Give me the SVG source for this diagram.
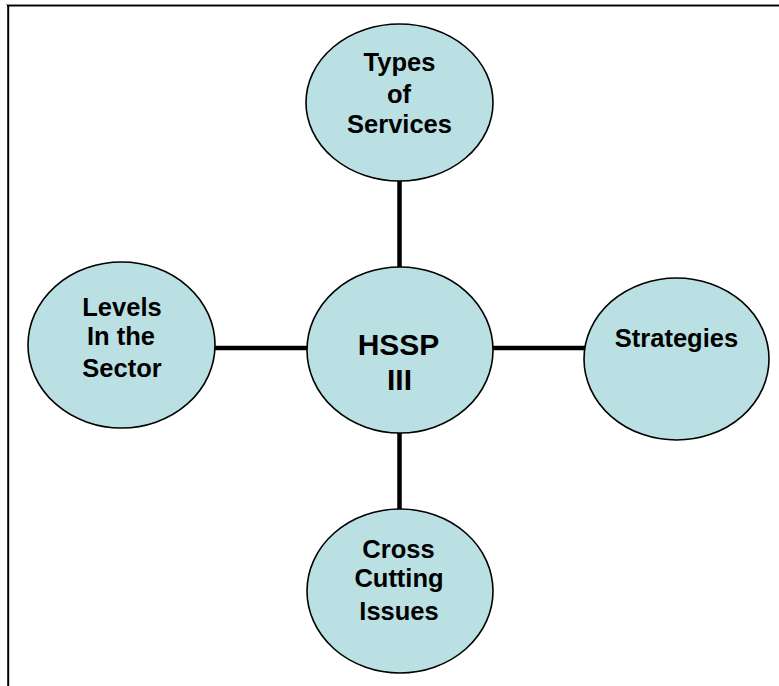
<svg xmlns="http://www.w3.org/2000/svg" width="779" height="686" viewBox="0 0 779 686">
  <style>
    .node ellipse { fill: #bae0e3; stroke: #000; stroke-width: 1.6; }
    .node text { font-family: "Liberation Sans", Arial, sans-serif; font-weight: bold; font-size: 25.5px; fill: #000; text-anchor: middle; }
    .node text.big { font-size: 30px; }
    .links line { stroke: #000; stroke-width: 4.5; }
    .frame { fill: none; }
  </style>

  <rect x="0" y="0" width="779" height="686" fill="#fff"/>

  <!-- page frame (open at right and bottom) -->
  <g class="frame">
    <line x1="6" y1="4.5" x2="779" y2="4.5" stroke="#8a8a8a" stroke-width="1"/>
    <line x1="7" y1="5.8" x2="779" y2="5.8" stroke="#000" stroke-width="1.6"/>
    <line x1="8.2" y1="5" x2="8.2" y2="686" stroke="#000" stroke-width="2"/>
  </g>

  <!-- spokes from the hub -->
  <g class="links">
    <line x1="399.5" y1="180" x2="399.5" y2="268"/>
    <line x1="399.5" y1="432" x2="399.5" y2="510"/>
    <line x1="214" y1="348" x2="308" y2="348"/>
    <line x1="492" y1="348" x2="585" y2="348"/>
  </g>

  <g id="types-of-services" class="node">
    <ellipse cx="399.5" cy="102.5" rx="93.5" ry="78.5"/>
    <text x="399.5" y="71">Types</text>
    <text x="399" y="103">of</text>
    <text x="399.5" y="133">Services</text>
  </g>

  <g id="hssp-iii" class="node">
    <ellipse cx="400" cy="350" rx="93" ry="83"/>
    <text class="big" x="398.5" y="355">HSSP</text>
    <text class="big" x="399.5" y="390">III</text>
  </g>

  <g id="levels-in-the-sector" class="node">
    <ellipse cx="121.5" cy="345" rx="93.5" ry="83"/>
    <text x="122" y="316">Levels</text>
    <text x="121" y="345">In the</text>
    <text x="122" y="377">Sector</text>
  </g>

  <g id="strategies" class="node">
    <ellipse cx="676.5" cy="359" rx="92.5" ry="81"/>
    <text x="676.5" y="346.5">Strategies</text>
  </g>

  <g id="cross-cutting-issues" class="node">
    <ellipse cx="400" cy="591" rx="93" ry="82"/>
    <text x="398.5" y="558">Cross</text>
    <text x="399" y="587">Cutting</text>
    <text x="399" y="620">Issues</text>
  </g>
</svg>
